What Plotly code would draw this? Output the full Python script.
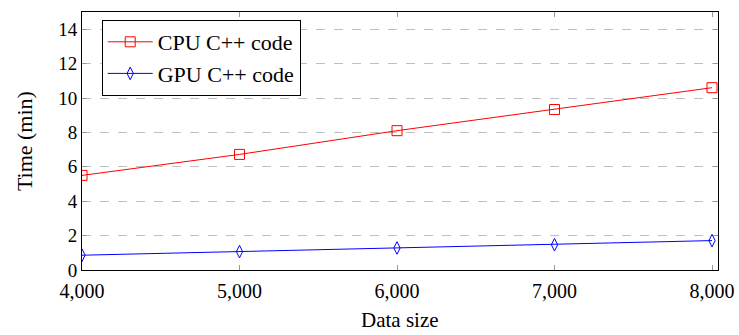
import plotly.graph_objects as go

data_size = [4000, 5000, 6000, 7000, 8000]
cpu_time = [5.5, 6.72, 8.1, 9.33, 10.6]
gpu_time = [0.86, 1.07, 1.28, 1.47, 1.71]
y_ticks = [0, 2, 4, 6, 8, 10, 12, 14]

FONT = "Liberation Serif"

fig = go.Figure()
fig.add_trace(go.Scatter(
    x=data_size, y=cpu_time, mode="lines+markers", name="CPU C++ code",
    line=dict(color="red", width=1),
    marker=dict(symbol="square-open", size=10, color="red", line=dict(width=1)),
))
fig.add_trace(go.Scatter(
    x=data_size, y=gpu_time, mode="lines+markers", name="GPU C++ code",
    line=dict(color="blue", width=1),
    marker=dict(symbol="diamond-tall-open", size=9, color="blue", line=dict(width=1)),
))

fig.update_layout(
    width=739, height=335,
    margin=dict(l=82, r=21, t=12, b=65),
    paper_bgcolor="white", plot_bgcolor="white",
    font=dict(family=FONT, size=20, color="black"),
    showlegend=True,
    legend=dict(
        x=0.031, y=0.969, xanchor="left", yanchor="top",
        bgcolor="white", bordercolor="black", borderwidth=1,
        font=dict(family=FONT, size=22),
        tracegroupgap=0, itemwidth=45,
    ),
    xaxis=dict(
        range=[4000, 8038], tickvals=data_size, tickformat=",d",
        showgrid=False, zeroline=False, automargin=False,
        showline=True, linecolor="black", linewidth=1, mirror="ticks",
        ticks="inside", ticklen=5, tickcolor="#999",
        tickfont=dict(size=20), ticklabelstandoff=3,
    ),
    yaxis=dict(
        range=[0, 15], tickvals=y_ticks,
        showgrid=True, gridcolor="#c0c0c0", griddash="dash", gridwidth=1,
        zeroline=False, automargin=False,
        showline=True, linecolor="black", linewidth=1, mirror="ticks",
        ticks="inside", ticklen=5, tickcolor="#999",
        tickfont=dict(size=19),
    ),
    annotations=[
        dict(text="Data size", xref="paper", yref="paper", x=0.5, y=-0.195,
             xanchor="center", yanchor="middle", showarrow=False,
             font=dict(family=FONT, size=21)),
        dict(text="Time (min)", xref="paper", yref="paper", x=-0.091, y=0.5,
             xanchor="center", yanchor="middle", textangle=-90, showarrow=False,
             font=dict(family=FONT, size=22)),
    ],
)

fig.write_html(
    "out.html",
    config={"displayModeBar": False},
    post_script="document.body.style.margin='0';document.body.style.overflow='hidden';",
)
